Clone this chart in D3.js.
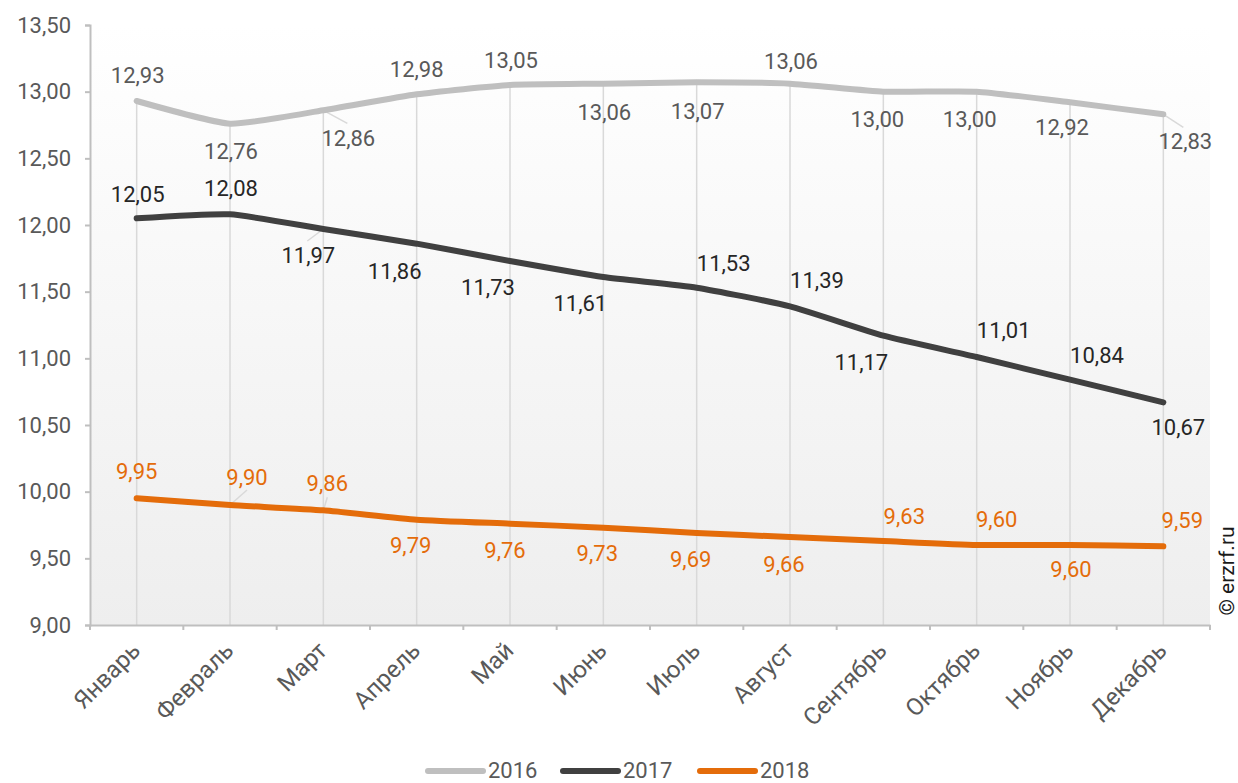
<!DOCTYPE html>
<html>
<head>
<meta charset="utf-8">
<script src="https://cdn.jsdelivr.net/npm/d3@7"></script>
<style>
  body { margin: 0; background: #fff; }
  svg { font-family: Roboto, "Noto Sans", sans-serif; }
</style>
</head>
<body>
<div id="chart"></div>
<script>
// data
const months = ['Январь','Февраль','Март','Апрель','Май','Июнь','Июль','Август','Сентябрь','Октябрь','Ноябрь','Декабрь'];
const years = ['2016','2017','2018'];
const values2016 = [12.93,12.76,12.86,12.98,13.05,13.06,13.07,13.06,13.00,13.00,12.92,12.83];
const values2017 = [12.05,12.08,11.97,11.86,11.73,11.61,11.53,11.39,11.17,11.01,10.84,10.67];
const values2018 = [9.95,9.90,9.86,9.79,9.76,9.73,9.69,9.66,9.63,9.60,9.60,9.59];
const yTicks = [9,9.5,10,10.5,11,11.5,12,12.5,13,13.5];

// label placement (offset of label from point) [dx, dy, leaderDx, leaderDy]
const place2016 = [[1,-18],[1,35],[25,36,24,13],[0,-17],[1,-17],[1,36],[1,37],[1,-15],[-6,35],[-7,35],[-8,33],[22,35,20,13]];
const place2017 = [[1,-16],[1,-18],[-15,34,-16,12],[-22,35],[-22,34],[-23,34],[27,-17],[27,-18],[-22,34],[27,-19],[27,-17],[15,33]];
const place2018 = [[0,-19],[17,-20,17,-15],[4,-19,4,-13],[-6,33],[-5,34],[-6,33],[-6,34],[-6,35],[21,-17],[20,-18],[1,32],[19,-18]];

const series = [
  {name: years[0], values: values2016, place: place2016, line: '#bfbfbf', text: '#595959'},
  {name: years[1], values: values2017, place: place2017, line: '#404040', text: '#262626'},
  {name: years[2], values: values2018, place: place2018, line: '#e46c0a', text: '#e46c0a'}
];

const width = 1238, height = 783;
const margin = {top: 25, bottom: 158, left: 90, right: 28};
const fmt = v => d3.format('.2f')(v).replace('.', ',');

const svg = d3.select('#chart').append('svg')
  .attr('width', width).attr('height', height);

const x = d3.scaleBand(months, [margin.left, width - margin.right]);
const y = d3.scaleLinear([9, 13.5], [height - margin.bottom, margin.top]);
const cx = d => x(d) + x.bandwidth() / 2;

// plot background
const grad = svg.append('defs').append('linearGradient')
  .attr('id', 'bg').attr('x1', 0).attr('y1', 0).attr('x2', 0).attr('y2', 1);
grad.append('stop').attr('offset', '0%').attr('stop-color', '#ffffff');
grad.append('stop').attr('offset', '100%').attr('stop-color', '#eeeeee');
svg.append('rect')
  .attr('x', margin.left).attr('y', margin.top)
  .attr('width', width - margin.left - margin.right)
  .attr('height', height - margin.top - margin.bottom)
  .attr('fill', 'url(#bg)');

// drop lines from the highest point of each month down to the axis
svg.append('g').selectAll('line').data(months).join('line')
  .attr('x1', cx).attr('x2', cx)
  .attr('y1', (d, i) => y(d3.max(series, s => s.values[i])))
  .attr('y2', y(9))
  .attr('stroke', '#d9d9d9').attr('stroke-width', 1.5);

// axes
const axisY = svg.append('g')
  .attr('transform', `translate(${margin.left},0)`)
  .call(d3.axisLeft(y).tickValues(yTicks).tickSize(5).tickPadding(14).tickFormat(fmt));
const axisX = svg.append('g')
  .attr('transform', `translate(0,${y(9)})`)
  .call(d3.axisBottom(x).tickSize(0).tickFormat(''));
axisX.append('g').selectAll('line').data(d3.range(months.length + 1)).join('line')
  .attr('x1', i => margin.left + i * x.step()).attr('x2', i => margin.left + i * x.step())
  .attr('y1', 0).attr('y2', 5);
[axisY, axisX].forEach(a => {
  a.select('.domain').attr('stroke', '#bfbfbf').attr('stroke-width', 2);
  a.selectAll('line').attr('stroke', '#bfbfbf').attr('stroke-width', 2);
});
axisY.selectAll('text').attr('font-size', 22).attr('fill', '#595959')
  .attr('font-family', 'Roboto');

// x labels rotated
svg.append('g').selectAll('text').data(months).join('text')
  .attr('transform', d => `translate(${cx(d) + 5},${y(9) + 27}) rotate(-45)`)
  .attr('text-anchor', 'end')
  .attr('font-size', 24).attr('fill', '#595959')
  .text(d => d);

// leader lines
series.forEach(s => {
  svg.append('g').selectAll('line')
    .data(s.values.map((v, i) => ({v, i, p: s.place[i]})).filter(d => d.p.length > 2))
    .join('line')
    .attr('x1', d => cx(months[d.i])).attr('y1', d => y(d.v))
    .attr('x2', d => cx(months[d.i]) + d.p[2]).attr('y2', d => y(d.v) + d.p[3])
    .attr('stroke', '#d9d9d9').attr('stroke-width', 1.5);
});

// lines
const lineGen = d3.line()
  .x((d, i) => cx(months[i]))
  .y(d => y(d))
  .curve(d3.curveCardinal.tension(0.5));
series.forEach(s => {
  svg.append('path')
    .datum(s.values)
    .attr('d', lineGen)
    .attr('fill', 'none')
    .attr('stroke', s.line).attr('stroke-width', 6)
    .attr('stroke-linecap', 'round').attr('stroke-linejoin', 'round');
});

// data labels
series.forEach(s => {
  svg.append('g').selectAll('text').data(s.values).join('text')
    .attr('x', (d, i) => cx(months[i]) + s.place[i][0])
    .attr('y', (d, i) => y(d) + s.place[i][1])
    .attr('text-anchor', 'middle')
    .attr('font-size', 22).attr('fill', s.text)
    .text(fmt);
});

// legend
const legendX = [428, 563, 700];
const legend = svg.append('g').selectAll('g').data(series).join('g')
  .attr('transform', (d, i) => `translate(${legendX[i]},771)`);
legend.append('line')
  .attr('x1', 0).attr('x2', 55)
  .attr('stroke', d => d.line).attr('stroke-width', 6).attr('stroke-linecap', 'round');
legend.append('text')
  .attr('x', 60).attr('y', 7)
  .attr('font-size', 22).attr('fill', '#595959')
  .text(d => d.name);

// watermark
svg.append('text')
  .attr('transform', 'translate(1234,571) rotate(-90)')
  .attr('text-anchor', 'middle')
  .attr('font-size', 21).attr('fill', '#1a1a1a')
  .text('© erzrf.ru');
</script>
</body>
</html>
